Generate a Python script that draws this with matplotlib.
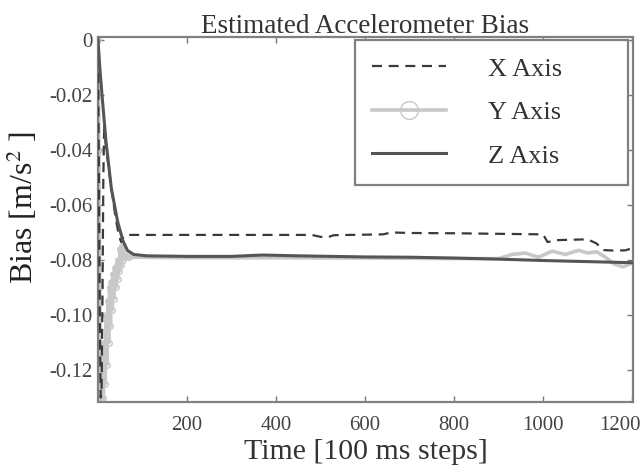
import matplotlib
matplotlib.use("Agg")
import matplotlib.pyplot as plt
from matplotlib.transforms import ScaledTranslation

# values (time in 100 ms steps, bias in m/s^2)
x_t = [0, 2, 4, 6, 8, 10, 12, 14, 16, 22, 30, 38, 46, 52, 58, 70, 150, 300,
       480, 500, 515, 530, 640, 660, 700, 800, 900, 1000, 1010, 1030, 1100,
       1120, 1135, 1160, 1185, 1202]
x_bias = [0, -0.05, -0.10, -0.13, -0.128, -0.095, -0.05, -0.03, -0.036, -0.044,
          -0.054, -0.063, -0.0705, -0.0735, -0.0712, -0.0709, -0.0709, -0.0709,
          -0.0709, -0.0716, -0.0718, -0.0710, -0.0707, -0.0700, -0.0702, -0.0703,
          -0.0705, -0.0707, -0.0735, -0.0728, -0.0725, -0.0740, -0.0764, -0.0766,
          -0.0765, -0.0756]

y_t = [0, 2, 4, 6, 8, 10, 12, 14, 16, 18, 20, 22, 24, 26, 28, 30, 32, 34, 36,
       38, 40, 42, 44, 46, 48, 50, 52, 54, 56, 58, 60, 65, 70, 80, 200, 400,
       600, 800, 900, 930, 960, 990, 1020, 1050, 1080, 1100, 1120, 1140, 1160,
       1180, 1202]
y_bias = [0, -0.04, -0.09, -0.125, -0.131, -0.12, -0.13, -0.11, -0.125, -0.10,
          -0.118, -0.095, -0.11, -0.09, -0.104, -0.088, -0.098, -0.085, -0.094,
          -0.083, -0.090, -0.082, -0.087, -0.080, -0.084, -0.076, -0.082, -0.075,
          -0.080, -0.077, -0.079, -0.0785, -0.079, -0.079, -0.0792, -0.0792,
          -0.0793, -0.0795, -0.0795, -0.078, -0.0775, -0.079, -0.0768, -0.078,
          -0.0765, -0.0775, -0.077, -0.079, -0.0815, -0.0825, -0.081]

z_t = [0, 4, 10, 18, 30, 44, 56, 66, 80, 110, 200, 300, 370, 450, 600, 700,
       800, 900, 1000, 1100, 1202]
z_bias = [0, -0.010, -0.022, -0.037, -0.054, -0.066, -0.073, -0.0765, -0.078,
          -0.0785, -0.0787, -0.0787, -0.0782, -0.0785, -0.0789, -0.0790,
          -0.0793, -0.0797, -0.0802, -0.0806, -0.0810]

x_ticks = [200, 400, 600, 800, 1000, 1200]
y_ticks = [0, -0.02, -0.04, -0.06, -0.08, -0.10, -0.12]
y_ticklabels = ["0", "-0.02", "-0.04", "-0.06", "-0.08", "-0.10", "-0.12"]

plt.rcParams["font.family"] = ["Liberation Serif", "DejaVu Serif"]
plt.rcParams["mathtext.fontset"] = "stix"

fig = plt.figure(figsize=(6.44, 4.66), dpi=100)
ax = fig.add_axes([98 / 644, 1 - 402 / 466, 535 / 644, 365 / 466])

ax.plot(x_t, x_bias, color="#3a3a3a", lw=1.6, ls="--", dashes=(4.5, 3),
        label="X Axis", zorder=3)
# circles only where the trace is dense (start transient)
ax.plot(y_t, y_bias, color="#c8c8c8", lw=2.6, marker="o", ms=4, mfc="none",
        mec="#c8c8c8", mew=1.0, markevery=slice(0, 33), label="Y Axis", zorder=2)
ax.plot(z_t, z_bias, color="#555555", lw=2.2, label="Z Axis", zorder=4)

ax.set_xlim(0, 1202)
ax.set_ylim(-0.1316, 0.001)
ax.set_xticks(x_ticks)
ax.set_yticks(y_ticks)
ax.set_yticklabels(y_ticklabels)
ax.tick_params(direction="in", top=True, right=True, length=4, width=1,
               color="#777777", labelsize=15, labelcolor="#444444", pad=4)
ax.tick_params(axis="x", pad=10)
for s in ax.spines.values():
    s.set_color("#808080")
    s.set_linewidth(1.6)

# last x label sits a bit left of its tick, as in the original
fig.canvas.draw()
last = ax.get_xticklabels()[-1]
last.set_transform(last.get_transform() +
                   ScaledTranslation(-12 / 100, 0, fig.dpi_scale_trans))

ax.set_title("Estimated Accelerometer Bias", fontsize=19.5, color="#333333",
             pad=3)
ax.set_xlabel("Time [100 ms steps]", fontsize=21.5, color="#333333", labelpad=3)
ax.set_ylabel("Bias [m/s$^2$ ]", fontsize=23, color="#222222")
ax.yaxis.set_label_coords(-0.108, 0.532)

leg = ax.legend(loc="upper right", bbox_to_anchor=(0.480, 0.0, 0.5107, 0.992),
                mode="expand", borderaxespad=0, fontsize=19, handlelength=2.8,
                handletextpad=1.6, labelspacing=0.76, borderpad=0.65,
                fancybox=False, framealpha=1, edgecolor="#808080",
                markerscale=3.2)
leg.get_frame().set_linewidth(1.6)
for txt in leg.get_texts():
    txt.set_color("#333333")

fig.savefig("out.png", dpi=100)
